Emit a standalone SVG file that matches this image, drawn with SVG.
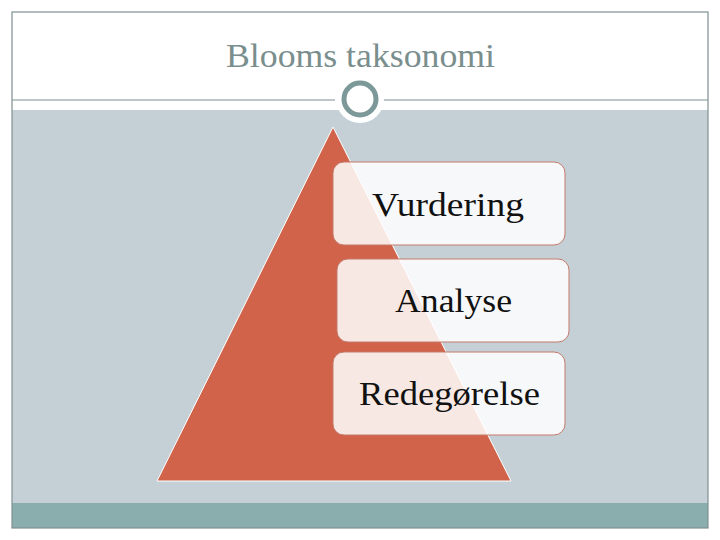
<svg xmlns="http://www.w3.org/2000/svg" width="720" height="540" viewBox="0 0 720 540">
<defs>
<style>
.box{fill:#ffffff;fill-opacity:0.85;stroke:#c47a6c;stroke-width:1}
.lbl{font-family:"Liberation Serif","DejaVu Serif",serif;font-size:33px;fill:#111;text-anchor:middle}
</style>
</defs>
<rect x="0" y="0" width="720" height="540" fill="#ffffff"/>
<rect x="12" y="110" width="696" height="393" fill="#c5d0d6"/>
<rect x="12" y="503" width="696" height="25" fill="#8aadad"/>
<rect x="12" y="12" width="696" height="516" fill="none" stroke="#7f8f8f" stroke-width="1.2"/>
<line x1="12" y1="100" x2="335" y2="100" stroke="#7f8f8f" stroke-width="1.2"/>
<line x1="383" y1="100" x2="708" y2="100" stroke="#7f8f8f" stroke-width="1.2"/>
<circle cx="360" cy="99" r="24" fill="#ffffff"/>
<circle cx="360" cy="99" r="16" fill="#ffffff" stroke="#7c9898" stroke-width="5"/>
<text x="360.5" y="67" font-family="Liberation Serif, DejaVu Serif, serif" font-size="33" fill="#7a8e8e" text-anchor="middle" textLength="269" lengthAdjust="spacingAndGlyphs">Blooms taksonomi</text>
<g id="pyramid">
<polygon points="333,127 511,481 157,481" fill="#d06349" stroke="#ffffff" stroke-width="1"/>
</g>
<g id="vurdering">
<rect class="box" x="333" y="162" width="232" height="83" rx="11"/>
<text class="lbl" x="448" y="216" textLength="152" lengthAdjust="spacingAndGlyphs">Vurdering</text>
</g>
<g id="analyse">
<rect class="box" x="337" y="259" width="232" height="83" rx="11"/>
<text class="lbl" x="453.5" y="312" textLength="117" lengthAdjust="spacingAndGlyphs">Analyse</text>
</g>
<g id="redegorelse">
<rect class="box" x="333" y="352" width="232" height="83" rx="11"/>
<text class="lbl" x="449.5" y="405" textLength="181" lengthAdjust="spacingAndGlyphs">Redegørelse</text>
</g>
<g id="connectors"></g>
</svg>
